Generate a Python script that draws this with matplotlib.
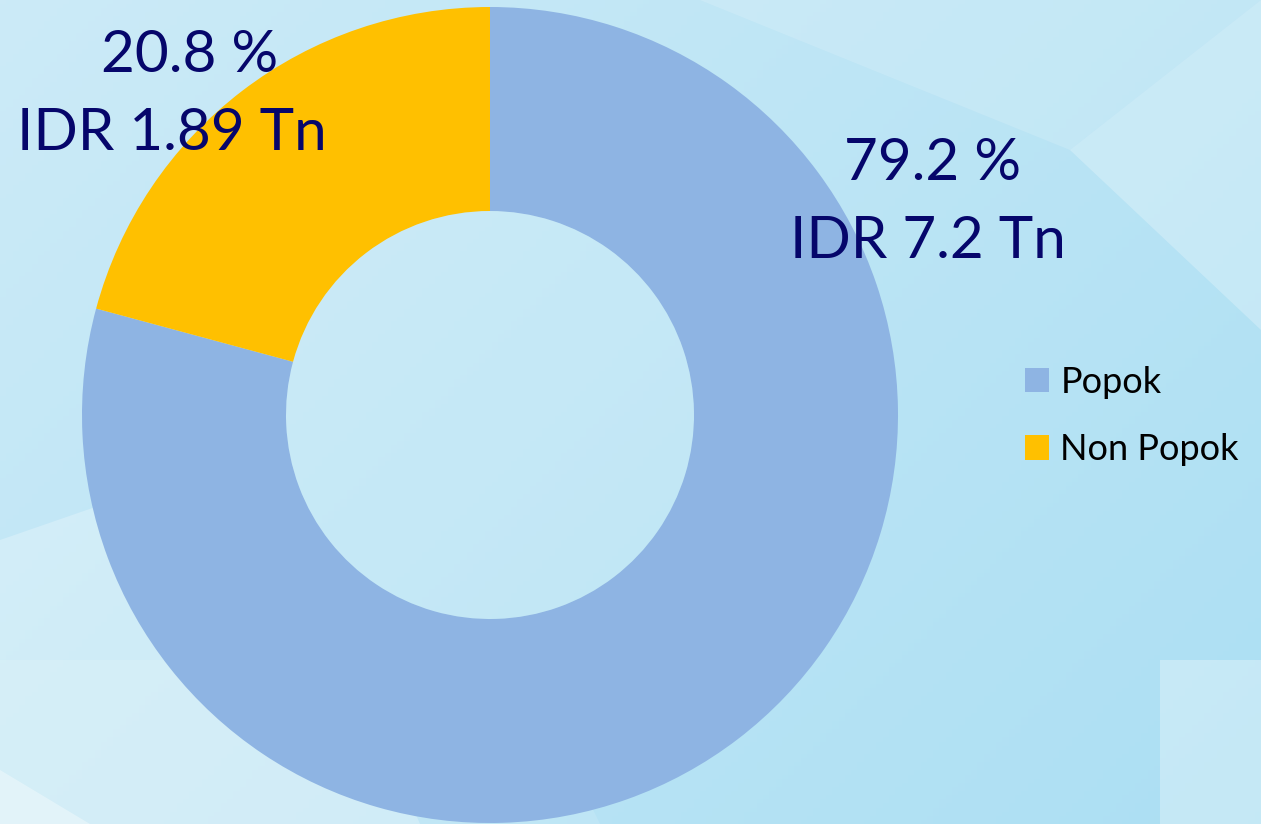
import matplotlib.pyplot as plt
import numpy as np
from matplotlib.patches import Polygon

# ── data ────────────────────────────────────────────
categories = ["Popok", "Non Popok"]
shares = [79.2, 20.8]
values_tn = ["7.2", "1.89"]
colours = ["#8EB4E3", "#FFC000"]

plt.rcParams["font.family"] = ["Lato", "DejaVu Sans"]
TEXT = "#06066B"

fig = plt.figure(figsize=(12.61, 8.24), dpi=100)

# ── background: soft gradient + translucent facets ──
bg = fig.add_axes([0, 0, 1, 1], zorder=0)
bg.set_xlim(0, 1261)
bg.set_ylim(824, 0)
bg.axis("off")
xx, yy = np.meshgrid(np.linspace(0, 1, 200), np.linspace(0, 1, 200))
t = np.clip(0.55 * xx + 0.35 * yy, 0, 1)
c0 = np.array([0.80, 0.92, 0.97])
c1 = np.array([0.66, 0.87, 0.95])
grad = c0 * (1 - t[..., None]) + c1 * t[..., None]
bg.imshow(grad, extent=[0, 1261, 824, 0], aspect="auto")
facets = [
    ([(0, 540), (260, 450), (420, 824), (0, 824)], 0.25),
    ([(0, 660), (520, 660), (600, 824), (0, 824)], 0.12),
    ([(0, 770), (90, 824), (0, 824)], 0.35),
    ([(1070, 150), (1261, 0), (1261, 330)], 0.25),
    ([(700, 0), (1261, 0), (1070, 150)], 0.15),
    ([(1160, 660), (1261, 660), (1261, 824), (1160, 824)], 0.3),
]
for pts, a in facets:
    bg.add_patch(Polygon(pts, closed=True, facecolor="white", alpha=a, edgecolor="none"))

# ── donut ───────────────────────────────────────────
ax = fig.add_axes([82 / 1261, 1 / 824, 816 / 1261, 816 / 824], zorder=1)
ax.set_facecolor("none")
wedges, _ = ax.pie(shares, colors=colours, startangle=90, counterclock=False,
                   radius=1, wedgeprops=dict(width=0.5, edgecolor="none"))
ax.set_xlim(-1, 1)
ax.set_ylim(-1, 1)
ax.set_aspect("equal")

# lighter tint inside the hole
hole = plt.Circle((0, 0), 0.5, facecolor="white", alpha=0.12, edgecolor="none")
ax.add_patch(hole)

# labels
lab = dict(ha="center", va="center", fontsize=42, color=TEXT, zorder=3)
fig.text(933 / 1261, 1 - 163 / 824, f"{shares[0]} %", **lab)
fig.text(928 / 1261, 1 - 241 / 824, f"IDR {values_tn[0]} Tn", **lab)
fig.text(190 / 1261, 1 - 55 / 824, f"{shares[1]} %", **lab)
fig.text(172 / 1261, 1 - 133 / 824, f"IDR {values_tn[1]} Tn", **lab)

# legend
leg = fig.legend(wedges, categories, loc="center left",
                 bbox_to_anchor=(1025 / 1261, 1 - 416 / 824),
                 frameon=False, fontsize=26, borderpad=0, borderaxespad=0,
                 handlelength=0.66, handleheight=0.66,
                 handletextpad=0.32, labelspacing=0.95, labelcolor="black")

fig.savefig("out.png", dpi=100)
